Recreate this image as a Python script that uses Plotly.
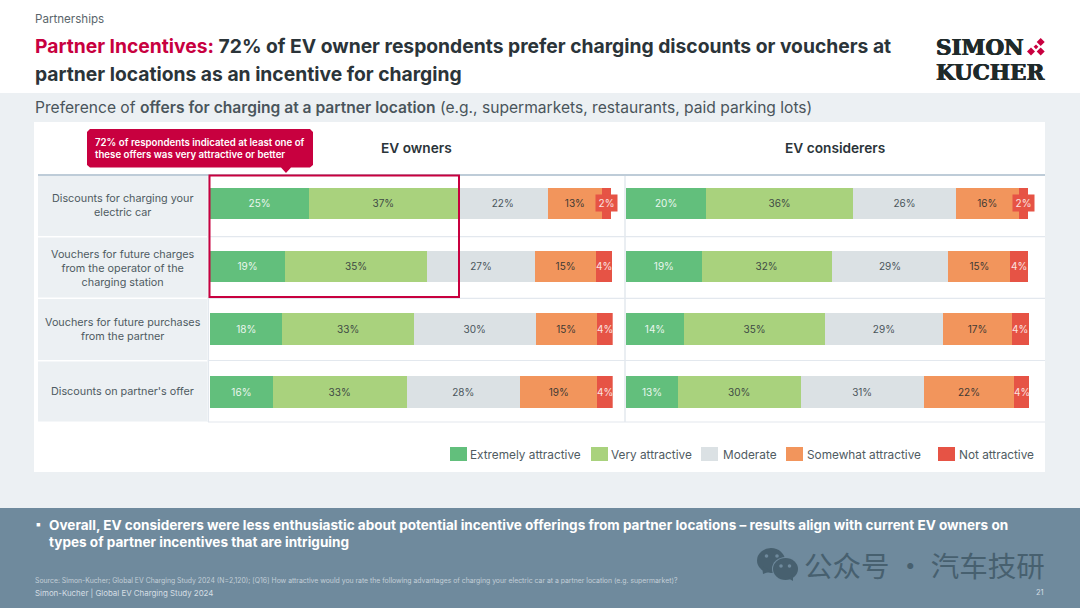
import plotly.graph_objects as go
from plotly.subplots import make_subplots

categories = [
    "Discounts for charging your<br>electric car",
    "Vouchers for future charges<br>from the operator of the<br>charging station",
    "Vouchers for future purchases<br>from the partner",
    "Discounts on partner's offer",
]
series_names = ["Extremely attractive", "Very attractive", "Moderate", "Somewhat attractive", "Not attractive"]
series_colors = ["#62BF7C", "#A9D27D", "#DBE1E4", "#F2955C", "#E65345"]
label_colors = ["#EAF6EE", "#3F4A45", "#4A555B", "#3F3A34", "#FBE3E0"]

owners_extremely = [24.6, 18.6, 18.0, 15.6]
owners_very = [36.9, 35.3, 32.6, 33.2]
owners_moderate = [22.4, 26.8, 30.3, 28.2]
owners_somewhat = [13.4, 15.2, 15.1, 19.2]
owners_not = [2.4, 3.9, 4.1, 3.8]

considerers_extremely = [19.9, 18.8, 14.4, 12.9]
considerers_very = [36.4, 32.2, 35.0, 30.4]
considerers_moderate = [25.6, 29.0, 29.2, 30.6]
considerers_somewhat = [15.5, 15.4, 17.2, 22.4]
considerers_not = [2.4, 4.4, 4.1, 3.8]

owners = [owners_extremely, owners_very, owners_moderate, owners_somewhat, owners_not]
considerers = [considerers_extremely, considerers_very, considerers_moderate, considerers_somewhat, considerers_not]

W, H = 1080, 608
FONT = "Inter"
INK = "#2B3439"
TXT = "#4F5B62"
CRIMSON = "#C8003F"
MARK = "#47606F"
BAND = "#6F8A9D"
LOGO = "#1F2A2A"


def px(x):
    return x / W


def py(y):
    return 1 - y / H


fig = make_subplots(rows=1, cols=2, shared_yaxes=True, horizontal_spacing=0.01)

last = len(series_names) - 1
for col, group in ((1, owners), (2, considerers)):
    for i, vals in enumerate(group):
        fig.add_trace(
            go.Bar(
                x=vals,
                y=categories,
                orientation="h",
                name=series_names[i],
                legendgroup=series_names[i],
                showlegend=False,
                marker=dict(color=series_colors[i], line=dict(width=0)),
                text=None if i == last else [f"{round(v)}%" for v in vals],
                textposition="none" if i == last else "inside",
                insidetextanchor="middle",
                constraintext="none",
                textangle=0,
                textfont=dict(family=FONT, size=10, color=label_colors[i]),
                hoverinfo="skip",
                cliponaxis=False,
            ),
            row=1,
            col=col,
        )

fig.update_layout(
    width=W,
    height=H,
    margin=dict(l=0, r=0, t=0, b=0),
    barmode="stack",
    bargap=0.5,
    paper_bgcolor="white",
    plot_bgcolor="rgba(0,0,0,0)",
    font=dict(family=FONT, color=TXT),
    showlegend=False,
)
fig.update_xaxes(range=[0, 100], visible=False, fixedrange=True)
fig.update_xaxes(domain=[px(210), px(612.7)], row=1, col=1)
fig.update_xaxes(domain=[px(626), px(1029)], row=1, col=2)
fig.update_yaxes(
    autorange=False,
    range=[3.5, -0.5],
    type="category",
    categoryorder="array",
    categoryarray=categories,
    domain=[py(423.5), py(172)],
    showticklabels=False,
    showgrid=False,
    zeroline=False,
    showline=False,
    ticks="",
    fixedrange=True,
)

shapes = []


def rect(x0, y0, x1, y1, fill, layer="below", line=None):
    shapes.append(
        dict(
            type="rect",
            xref="paper",
            yref="paper",
            x0=px(x0),
            x1=px(x1),
            y0=py(y0),
            y1=py(y1),
            fillcolor=fill,
            line=line or dict(width=0),
            layer=layer,
        )
    )


def hline(x0, x1, y, color, w=1.2):
    shapes.append(
        dict(type="line", xref="paper", yref="paper", x0=px(x0), x1=px(x1), y0=py(y), y1=py(y),
             line=dict(color=color, width=w), layer="below")
    )


def vline(x, y0, y1, color, w=1.5):
    shapes.append(
        dict(type="line", xref="paper", yref="paper", x0=px(x), x1=px(x), y0=py(y0), y1=py(y1),
             line=dict(color=color, width=w), layer="below")
    )


def poly(points, fill, layer="above"):
    path = "M " + " L ".join(f"{px(x):.5f} {py(y):.5f}" for x, y in points) + " Z"
    shapes.append(dict(type="path", xref="paper", yref="paper", path=path, fillcolor=fill,
                       line=dict(width=0), layer=layer))


def circle(cx, cy, rx, ry, fill):
    shapes.append(dict(type="circle", xref="paper", yref="paper", x0=px(cx - rx), x1=px(cx + rx),
                       y0=py(cy + ry), y1=py(cy - ry), fillcolor=fill, line=dict(width=0), layer="above"))


# slide bands
rect(0, 93, W, 508, "#ECF0F3")
rect(0, 508, W, H, BAND)
rect(34, 122, 1045, 472, "#FFFFFF")

# table frame
for y0, y1 in ((176, 236), (237.5, 297.5), (299, 360), (361.5, 421.5)):
    rect(38, y0, 207, y1, "#ECF0F3")
for y in (236.7, 298.3, 360.5, 422):
    hline(208, 1045, y, "#E3E8EE")
vline(208.3, 176, 422, "#E3E8EE")
vline(625, 176, 422, "#E3E8EE")
hline(38, 1045, 175, "#A9BBCB", 1.5)

# highlight box
rect(209.5, 175.5, 459, 297, "rgba(0,0,0,0)", layer="above", line=dict(color=CRIMSON, width=2))

# callout
poly([(90, 129), (310, 129), (313, 132), (313, 165), (310, 167.5), (291, 167.5), (286, 173),
      (281, 167.5), (90, 167.5), (87, 165), (87, 132)], CRIMSON)

# logo diamonds
for cx, cy, r in ((1040.7, 42, 4), (1036, 46.8, 2.4), (1031, 51.5, 4), (1040.7, 51.5, 4)):
    poly([(cx, cy - r), (cx + r, cy), (cx, cy + r), (cx - r, cy)], CRIMSON)

# watermark icon
circle(771, 560.5, 14, 12.5, MARK)
poly([(762, 566), (763, 574), (771, 571)], MARK)
circle(785.5, 569, 13.5, 12, BAND)
circle(785.5, 569, 12.5, 11, MARK)
poly([(788, 578), (793, 581), (793, 575)], MARK)
for cx, cy in ((766.5, 556), (777, 556), (781, 566), (789.5, 566)):
    circle(cx, cy, 1.8, 1.8, BAND)

# legend swatches
legend_swatch_x = [450, 591, 701, 786, 938]
legend_text_x = [468.5, 610, 721.5, 805.5, 958]
for i, x in enumerate(legend_swatch_x):
    rect(x, 447, x + 17, 461, series_colors[i], layer="above")

fig.update_layout(shapes=shapes)


def note(x, y, text, size=12, color=TXT, anchor="left", weight=None, family=FONT, shadow=None):
    f = dict(family=family, size=size, color=color)
    if weight:
        f["weight"] = weight
    if shadow:
        f["shadow"] = shadow
    fig.add_annotation(xref="paper", yref="paper", x=px(x), y=py(y), text=text, showarrow=False,
                       xanchor=anchor, yanchor="middle", align=anchor if anchor != "middle" else "center",
                       font=f, borderpad=0)


note(33.5, 19, "Partnerships", 11.6, "#5A656B")
note(33.5, 46, f'<span style="color:{CRIMSON}">Partner Incentives:</span> 72% of EV owner respondents prefer charging discounts or vouchers at', 19.27, INK, weight=700)
note(33.5, 73.5, "partner locations as an incentive for charging", 19.27, INK, weight=700)
note(33.5, 107.5, 'Preference of <span style="font-weight:600">offers for charging at a partner location</span> (e.g., supermarkets, restaurants, paid parking lots)', 15.6, "#4A555B")

note(416.5, 148, "EV owners", 13.7, INK, "center", 600)
note(835, 148, "EV considerers", 13.7, INK, "center", 600)

note(94, 142.5, "72% of respondents indicated at least one of", 9.7, "#FFFFFF", weight=600)
note(94, 154.5, "these offers was very attractive or better", 9.7, "#FFFFFF", weight=600)

label_shift = [-2, -2, 0, 1]
for cat, shift in zip(categories, label_shift):
    fig.add_annotation(xref="paper", yref="y", x=px(122.5), y=cat, text=cat, showarrow=False,
                       xanchor="center", yanchor="middle", align="center", yshift=shift,
                       font=dict(family=FONT, size=10.8, color=TXT))

# labels of the narrow red end segments; the thinnest sit on their own red patch
for xref, group in (("x", owners), ("x2", considerers)):
    for r, cat in enumerate(categories):
        value = group[last][r]
        start = sum(g[r] for g in group[:last])
        patch = dict(width=21, height=16, bgcolor=series_colors[last]) if value < 3 else {}
        fig.add_annotation(xref=xref, yref="y", x=start + value / 2, y=cat, text=f"{round(value)}%",
                           showarrow=False, borderpad=0, valign="middle",
                           font=dict(family=FONT, size=10, color=label_colors[last]), **patch)

for name, x in zip(series_names, legend_text_x):
    note(x, 454.5, name, 11.8, TXT)

note(48, 525, "Overall, EV considerers were less enthusiastic about potential incentive offerings from partner locations – results align with current EV owners on", 13.55, "#FFFFFF", weight=700)
note(48, 541.5, "types of partner incentives that are intriguing", 13.55, "#FFFFFF", weight=700)
note(33.5, 523.5, "▪", 12, "#FFFFFF")

note(33.5, 580.5, "Source: Simon-Kucher; Global EV Charging Study 2024 (N=2,120); [Q16] How attractive would you rate the following advantages of charging your electric car at a partner location (e.g. supermarket)?", 6.87, "#C2CED7")
note(33.5, 592.5, "Simon-Kucher | Global EV Charging Study 2024", 7.9, "#D5DEE4")
note(1045, 592.5, "21", 7.5, "#D5DEE4", "right")

note(802.5, 564, "公众号 · 汽车技研", 28.5, MARK, family="Noto Sans CJK SC")

thick = f"0.5px 0 0 {LOGO}, -0.5px 0 0 {LOGO}"
note(935, 47.5, "SIMON", 21.5, LOGO, weight=700, family="DejaVu Serif", shadow=thick)
note(935, 72.5, "KUCHER", 21.5, LOGO, weight=700, family="DejaVu Serif", shadow=thick)

fig.write_html(
    "out.html",
    config=dict(displayModeBar=False, responsive=False),
    post_script="document.body.style.margin='0';document.body.style.overflow='hidden';",
)
